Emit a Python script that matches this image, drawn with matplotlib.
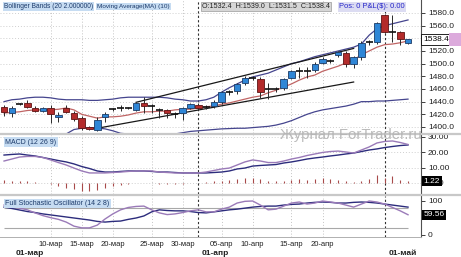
import matplotlib
matplotlib.use("Agg")
import matplotlib.pyplot as plt
import matplotlib.transforms as mtransforms
from matplotlib.patches import Rectangle

plt.rcParams['font.family'] = ['Liberation Sans', 'DejaVu Sans']

# daily bars, 01-мар .. 02-май
opens = [1432, 1422, 1436, 1438, 1430, 1425, 1430, 1416, 1430, 1422,
         1414, 1400, 1395, 1415, 1428, 1430, 1430, 1427, 1438, 1433.5,
         1427, 1427, 1421, 1422, 1430, 1435, 1431, 1433, 1439, 1455,
         1457, 1469, 1477, 1476, 1460, 1460, 1462, 1477, 1488, 1488,
         1490, 1501, 1504, 1514, 1517, 1499, 1510, 1534, 1534, 1577,
         1550, 1550, 1532.4]
highs = [1435, 1433, 1438, 1443, 1433, 1432, 1435, 1424, 1435, 1425,
         1417, 1402, 1415, 1424, 1430, 1434, 1432, 1440, 1447, 1436,
         1430, 1429, 1424, 1432, 1438, 1438, 1434, 1442, 1457, 1459,
         1470, 1480, 1481, 1479, 1469, 1463, 1478, 1490, 1494, 1494,
         1502, 1510, 1507, 1520, 1520, 1512, 1535, 1537, 1566, 1579,
         1577, 1552, 1539.0]
lows = [1418, 1416, 1434, 1430, 1424, 1423, 1406, 1408, 1422, 1410,
        1396, 1395, 1393, 1408, 1426, 1425, 1428, 1425, 1422, 1422,
        1414, 1414, 1414, 1411, 1428, 1427, 1428, 1430, 1437, 1451,
        1452, 1467, 1474, 1446, 1444, 1456, 1458, 1475, 1478, 1478,
        1487, 1499, 1501, 1511, 1494, 1493, 1506, 1530, 1531, 1548,
        1534, 1529, 1531.5]
closes = [1424, 1430, 1436.5, 1432, 1425, 1430, 1421, 1419, 1424, 1413,
          1398, 1397, 1411, 1421, 1429, 1430.5, 1429.5, 1438, 1433, 1433,
          1426.5, 1422, 1420, 1430, 1436, 1430, 1432, 1439, 1455, 1455.5,
          1468, 1477, 1478, 1455, 1460.5, 1460.5, 1476, 1488, 1488.5, 1487.5,
          1499, 1507, 1504.5, 1518, 1499, 1510, 1533, 1534.5, 1564, 1550,
          1550.5, 1539, 1538.4]

ma10 = [1422, 1423, 1424, 1426, 1427, 1427, 1427, 1428, 1430, 1427,
        1420, 1417, 1414, 1416, 1416, 1417, 1419, 1422, 1424, 1424,
        1425, 1425, 1427, 1428, 1428, 1430, 1432, 1433, 1436, 1438,
        1441, 1444, 1447, 1449, 1454, 1458, 1463, 1468, 1474, 1479,
        1482, 1488, 1492, 1496, 1501, 1506, 1514, 1520, 1526, 1530,
        1531, 1533, 1536]
bb_upper = [1440, 1443, 1444, 1446, 1447, 1447, 1446, 1444, 1443, 1443,
            1443, 1442, 1442, 1443, 1444, 1446, 1447, 1447, 1447, 1447,
            1447, 1446, 1444, 1443, 1441, 1441, 1443, 1447, 1455, 1462,
            1468, 1474, 1479, 1482, 1485, 1490, 1495, 1500, 1503, 1507,
            1511, 1514, 1517, 1520, 1523, 1526, 1531, 1545, 1555, 1560,
            1563, 1566, 1569]
bb_lower = [1388, 1388, 1388, 1388, 1388, 1388, 1388, 1388, 1389, 1396,
            1398, 1399, 1398.5, 1397, 1394, 1390, 1389, 1388, 1388, 1388,
            1388, 1388, 1389, 1391, 1393, 1394, 1395, 1396, 1397, 1397.5,
            1398, 1398, 1399, 1400, 1401, 1403, 1406, 1410, 1415, 1420,
            1424, 1427, 1429, 1431, 1433, 1436, 1440, 1440, 1441, 1441,
            1442, 1443, 1444]
# hand drawn trend channel (bar, price)
chan_top_bars, chan_top_prices = [17, 45], [1439, 1524]
chan_bot_bars, chan_bot_prices = [12, 45], [1398, 1471]

macd_line = [14.3, 15.6, 16.9, 17.3, 17.3, 16.6, 15.0, 13.3, 11.7, 9.7,
             7.8, 6.5, 6.5, 6.5, 6.8, 7.1, 7.5, 7.8, 7.8, 7.8,
             7.1, 6.8, 6.5, 6.5, 6.5, 6.5, 7.1, 8.1, 9.1, 9.7,
             11.7, 13.7, 15.0, 14.3, 13.3, 13.3, 14.3, 15.6, 16.6, 17.9,
             18.9, 19.9, 20.5, 20.8, 20.2, 19.5, 21.5, 23.5, 26.1, 27.1,
             27.4, 26.4, 25.1]
macd_signal = [18.2, 18.6, 18.9, 18.2, 17.6, 16.6, 15.6, 14.6, 13.7, 12.4,
               10.7, 9.4, 7.8, 7.1, 7.1, 7.5, 7.8, 7.8, 7.8, 7.5,
               7.1, 7.1, 6.8, 6.5, 6.5, 6.5, 6.5, 6.8, 7.1, 7.8,
               9.1, 9.7, 11.0, 11.4, 11.7, 12.0, 13.0, 13.7, 14.6, 15.6,
               16.3, 16.9, 17.6, 18.2, 18.9, 19.5, 20.5, 21.5, 22.2, 23.1,
               23.8, 24.4, 24.8]
macd_hist = [2.0, 1.5, 1.5, 1.3, 0.3, 0.2, -0.5, -2.0, -3.3, -4.0,
             -5.2, -5.2, -4.6, -3.3, -2.0, -1.3, -0.5, -0.3, 0.2, -0.3,
             -0.5, -0.8, -0.8, -0.5, -0.3, -0.2, 0.4, 1.0, 1.5, 2.0,
             2.6, 3.3, 3.3, 2.6, 1.3, 1.0, 1.3, 2.0, 2.6, 2.0,
             2.6, 3.0, 2.6, 2.0, 1.3, 0.7, 1.5, 2.6, 5.2, 3.0,
             4.6, 2.0, 1.22]

stoch_k = [88, 84, 79, 74, 65, 57, 51, 46, 38, 26,
           21, 21, 29, 47, 62, 74, 81, 84, 85, 74,
           65, 60, 62, 66, 71, 74, 68, 68, 76, 82,
           94, 99, 100, 88, 74, 76, 85, 94, 97, 91,
           94, 100, 97, 94, 88, 82, 91, 100, 97, 91,
           81, 71, 59.56]
stoch_d = [82, 78, 73.5, 69, 66, 62, 59, 56, 53, 50,
           47, 44, 40, 38, 40, 41, 46, 50, 56, 68,
           74, 72, 71, 71, 69, 66, 65, 68, 71, 74,
           76, 79, 82, 84, 85, 85, 88, 90, 91, 94,
           96, 97, 96, 94, 94, 96, 97, 96, 94, 91,
           88, 85, 82]

tick_bars = [6, 10, 14, 19, 23, 28, 32, 37, 41]
tick_labels = ["10-мар", "15-мар", "20-мар", "25-мар", "30-мар",
               "05-апр", "10-апр", "15-апр", "20-апр"]
month_bars = [1, 25, 49]
month_labels = ["01-мар", "01-апр", "01-май"]

W, H = 461, 257
fig = plt.figure(figsize=(W / 100, H / 100), dpi=100)
fig.patch.set_facecolor("white")
n = len(closes)
bars = list(range(n))
xlim = (-0.52, 53.67)


def panel(top, bottom):
    ax = fig.add_axes([0, 1 - bottom / H, 421 / W, (bottom - top) / H])
    for s in ("left", "top", "bottom"):
        ax.spines[s].set_visible(False)
    ax.spines["right"].set_color("#505050")
    ax.spines["right"].set_linewidth(0.8)
    ax.yaxis.tick_right()
    ax.tick_params(axis="y", direction="out", length=3, width=0.6,
                   labelsize=6, pad=2, colors="#202020")
    ax.tick_params(axis="x", length=0)
    ax.set_xticks([])
    ax.set_xlim(*xlim)
    for b in tick_bars:
        ax.axvline(b, color="#c4c4c4", ls=(0, (1, 2)), lw=0.7, zorder=0)
    for b in month_bars[1:]:
        ax.axvline(b, color="#303030", ls=(0, (2, 2)), lw=0.8, zorder=1)
    return ax


# ---- price panel ----
ax = panel(0, 133)
ax.set_ylim(1390.5, 1600.5)
price_ticks = list(range(1400, 1600, 20))
ax.set_yticks(price_ticks)
# the 1540 label sits under the last-price box
ax.set_yticklabels(["" if abs(p - closes[-1]) < 5 else f"{p:.1f}" for p in price_ticks])
for p in price_ticks:
    ax.axhline(p, color="#cfcfcf", ls=(0, (1, 2)), lw=0.7, zorder=0)

ax.plot(bars, bb_upper, color="#45458e", lw=0.9, zorder=2)
ax.plot(bars, bb_lower, color="#45458e", lw=0.9, zorder=2)
ax.plot(bars, ma10, color="#c06565", lw=0.9, zorder=2)
ax.plot(chan_top_bars, chan_top_prices, color="#181818", lw=0.9, zorder=2)
ax.plot(chan_bot_bars, chan_bot_prices, color="#181818", lw=0.9, zorder=2)

for i, (o, h, l, c) in enumerate(zip(opens, highs, lows, closes)):
    ax.vlines(i, l, h, color="#2a2a2a", lw=0.7, zorder=3)
    if abs(c - o) < 1.2:
        ax.hlines((o + c) / 2, i - 0.45, i + 0.45, color="#111111", lw=1.2, zorder=4)
    else:
        up = c > o
        ax.add_patch(Rectangle((i - 0.42, min(o, c)), 0.84, abs(c - o),
                               facecolor="#2f86d6" if up else "#b32b2b",
                               edgecolor="#1d3c66" if up else "#5e1414",
                               lw=0.6, zorder=4))

blend = mtransforms.blended_transform_factory(ax.transAxes, ax.transData)
ax.text(1.006, closes[-1], f"{closes[-1]:.1f}", transform=blend, ha="left",
        va="center", fontsize=6, clip_on=False, zorder=10,
        bbox=dict(boxstyle="square,pad=0.25", fc="white", ec="black", lw=0.6))
fig.patches.append(Rectangle((449 / W, 1 - 46 / H), 12 / W, 13 / H,
                             transform=fig.transFigure, fc="#dcaadc", ec="none"))

# ---- MACD panel ----
ax2 = panel(135, 194)
ax2.set_ylim(-7.25, 31.3)
ax2.set_yticks([0, 10, 20, 30])
ax2.set_yticklabels(["0.00", "10.00", "20.00", "30.00"])
for v in [0, 10, 20, 30]:
    ax2.axhline(v, color="#cfcfcf", ls=(0, (1, 2)), lw=0.7, zorder=0)
ax2.vlines(bars, 0, macd_hist, color="#a84a4a", lw=0.8, zorder=2)
ax2.plot(bars, macd_signal, color="#2c2c7c", lw=1.0, zorder=3)
ax2.plot(bars, macd_line, color="#9a7ab8", lw=1.0, zorder=3)
blend2 = mtransforms.blended_transform_factory(ax2.transAxes, ax2.transData)
ax2.text(1.006, macd_hist[-1], f"{macd_hist[-1]:.2f}", transform=blend2,
         ha="left", va="center", fontsize=6, color="white", clip_on=False,
         zorder=10, bbox=dict(boxstyle="square,pad=0.2", fc="black", ec="none"))

# ---- stochastic panel ----
ax3 = panel(196, 237)
ax3.set_ylim(-5.9, 114.7)
ax3.set_yticks([0, 100])
ax3.set_yticklabels(["0", "100"])
ax3.spines["bottom"].set_visible(True)
ax3.spines["bottom"].set_color("#b0b0b0")
ax3.spines["bottom"].set_linewidth(0.7)
for lvl in (20, 80):
    ax3.hlines(lvl, 0, n - 1, color="#a8a8a8", lw=0.8, zorder=1)
ax3.plot(bars, stoch_d, color="#2c2c7c", lw=1.0, zorder=3)
ax3.plot(bars, stoch_k, color="#9a7ab8", lw=1.0, zorder=3)
blend3 = mtransforms.blended_transform_factory(ax3.transAxes, ax3.transData)
ax3.text(1.006, stoch_k[-1], f"{stoch_k[-1]:.2f}", transform=blend3,
         ha="left", va="center", fontsize=6, color="white", clip_on=False,
         zorder=10, bbox=dict(boxstyle="square,pad=0.2", fc="black", ec="none"))

ax3.set_xticks(tick_bars)
ax3.set_xticklabels(tick_labels, fontsize=5.5, color="#202020")
ax3.tick_params(axis="x", length=0, pad=3)
blendx = mtransforms.blended_transform_factory(ax3.transData, ax3.transAxes)
for b, lab in zip(month_bars, month_labels):
    ax3.text(b + 0.45, -0.4, lab, transform=blendx, ha="left", va="center",
             fontsize=6, fontweight="bold", color="#202020", clip_on=False)

# panel separators
for y in (134, 195):
    fig.add_artist(plt.Line2D([0, 1], [1 - y / H, 1 - y / H], color="#c8c8c8",
                              lw=1.6, transform=fig.transFigure))


# indicator captions
def caption(x, y, s, fc="#c6dcf2", color="#1c3a6a", ec="none", size=4.8):
    fig.text(x / W, 1 - y / H, s, fontsize=size, color=color, ha="left", va="center",
             bbox=dict(boxstyle="square,pad=0.2", fc=fc, ec=ec, lw=0.5))


caption(4, 6.5, "Bollinger Bands (20 2.000000)")
caption(97, 6.5, "Moving Average(MA) (10)", size=4.6)
caption(202, 6.5, f"O:{opens[-1]:.1f}  H:{highs[-1]:.1f}  L:{lows[-1]:.1f}  C:{closes[-1]:.1f}",
        fc="#d6d6d6", color="#202020", ec="#9a9a9a", size=5.1)
caption(339, 6.5, "Pos: 0 P&L($): 0.00", fc="#dcdcf2", color="#2424c8", size=5.4)
caption(5, 142, "MACD (12 26 9)", size=5)
caption(5, 203.5, "Full Stochastic Oscillator (14 2 8)", size=5)

fig.text(280 / W, 1 - 135 / H, "Журнал ForTrader.ru", fontsize=10.8,
         color="#b4b4b4", ha="left", va="center", zorder=20, alpha=0.9)

fig.savefig("out.png", dpi=100)
